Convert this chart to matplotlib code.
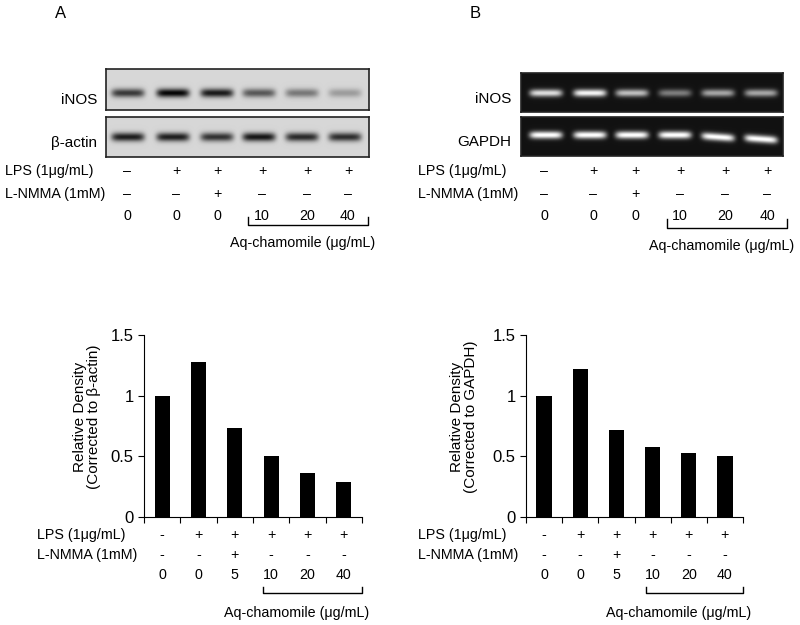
import numpy as np
import matplotlib
matplotlib.use("Agg")
import matplotlib.pyplot as plt

plt.rcParams["font.family"] = ["Liberation Sans", "DejaVu Sans"]

# ---- data -------------------------------------------------------------
lps = ["-", "+", "+", "+", "+", "+"]
nmma = ["-", "-", "+", "-", "-", "-"]
dose_blot = ["0", "0", "0", "10", "20", "40"]
dose_bar = ["0", "0", "5", "10", "20", "40"]

dens_actin = [1.00, 1.28, 0.735, 0.505, 0.36, 0.29]   # panel A bars
dens_gapdh = [1.00, 1.22, 0.72, 0.575, 0.525, 0.50]   # panel B bars

# band strength per lane (0-1), read by eye from the blots
wb_inos = [0.75, 1.00, 0.90, 0.60, 0.45, 0.28]
wb_actin = [0.88, 0.88, 0.78, 0.92, 0.82, 0.80]
rt_inos = [0.85, 0.95, 0.72, 0.45, 0.62, 0.62]
rt_gapdh = [1.00, 1.00, 1.00, 1.00, 1.00, 1.00]
rt_gapdh_shift = [0, 0, 0, 0, 2, 4]   # px, bands drift down in last lanes

FS = 10.3      # treatment rows
FS_LAB = 11    # blot names, y label
FS_TICK = 12
W, H = 800, 625
fig = plt.figure(figsize=(8, 6.25), dpi=100)


def px(x, y):
    return x / W, 1 - y / H


def ftext(x, y, s, **kw):
    kw.setdefault("fontsize", FS)
    kw.setdefault("va", "center")
    fig.text(*px(x, y), s, **kw)


def gel(x0, y0, x1, y1, lanes, strength, band_y, dark_bg, shift=None, bw=3.8):
    """synthetic gel strip drawn in pixel box (x0,y0)-(x1,y1)"""
    ax = fig.add_axes([x0 / W, 1 - y1 / H, (x1 - x0) / W, (y1 - y0) / H])
    w, h = int(x1 - x0), int(y1 - y0)
    xx, yy = np.meshgrid(np.arange(w) + 0.5, np.arange(h) + 0.5)
    sig = np.zeros((h, w))
    for i, (lx, s) in enumerate(zip(lanes, strength)):
        cx = lx - x0
        dy = 0 if shift is None else shift[i]
        slope = 0 if dy == 0 else 0.07
        yc = band_y + dy + slope * (xx - cx)
        prof = np.exp(-((xx - cx) / 16.5) ** 6) * np.exp(-((yy - yc) / bw) ** 2)
        sig = np.maximum(sig, s * prof)
    if dark_bg:
        img = 0.07 + 0.93 * sig
    else:
        img = 0.84 - 0.82 * sig
    ax.imshow(img, cmap="gray", vmin=0, vmax=1, aspect="auto",
              interpolation="bilinear")
    ax.set_xticks([])
    ax.set_yticks([])
    for sp in ax.spines.values():
        sp.set_linewidth(1.2)
        sp.set_color("#222222")
    return ax


# ---- panel A blot -----------------------------------------------------
laneA = [128, 173, 217, 259, 302, 345]
gel(106, 69, 369, 110, laneA, wb_inos, 24, False, bw=4.4)
gel(106, 117, 369, 157, laneA, wb_actin, 20, False, bw=4.4)
ftext(61, 14, "A", fontsize=12, ha="center")
ftext(97, 100, "iNOS", fontsize=FS_LAB, ha="right")
ftext(97, 143, "β-actin", fontsize=FS_LAB, ha="right")

# ---- panel B gel ------------------------------------------------------
laneB = [546, 590, 632, 675, 718, 761]
gel(521, 73, 783, 112, laneB, rt_inos, 20, True)
gel(521, 117, 783, 156, laneB, rt_gapdh, 18, True, shift=rt_gapdh_shift)
ftext(475, 14, "B", fontsize=12, ha="center")
ftext(511, 99, "iNOS", fontsize=FS_LAB, ha="right")
ftext(511, 142, "GAPDH", fontsize=FS_LAB, ha="right")

# treatment rows under the blots
lab_top = [(5, [127, 176, 217, 262, 307, 348], 248, 368, 217, 225, 303),
           (418, [544, 593, 635, 680, 725, 767], 667, 787, 219, 228, 722)]
for lx, cols, bx0, bx1, by0, by1, aqx in lab_top:
    ftext(lx, 171, "LPS (1μg/mL)")
    ftext(lx, 194, "L-NMMA (1mM)")
    for i, cx in enumerate(cols):
        ftext(cx, 171, "–" if lps[i] == "-" else "+", ha="center")
        ftext(cx, 194, "–" if nmma[i] == "-" else "+", ha="center")
        ftext(cx, 216, dose_blot[i], ha="center")
    fig.add_artist(plt.Line2D([bx0 / W, bx0 / W, bx1 / W, bx1 / W],
                              [1 - by0 / H, 1 - by1 / H, 1 - by1 / H, 1 - by0 / H],
                              color="black", lw=1))
    ftext(aqx, by1 + 18, "Aq-chamomile (μg/mL)", ha="center")

# ---- bar charts -------------------------------------------------------
bar_specs = [(144, 362, dens_actin, "Relative Density\n(Corrected to β-actin)", 87, 37, 2.78),
             (526, 743, dens_gapdh, "Relative Density\n(Corrected to GAPDH)", 464, 418, 2.82)]
for x0, x1, vals, ylab, ylx, rowx, brk in bar_specs:
    ax = fig.add_axes([x0 / W, 1 - 517 / H, (x1 - x0) / W, 182 / H])
    xs = np.arange(len(vals))
    ax.bar(xs, vals, width=0.42, color="black")
    ax.set_xlim(-0.5, 5.5)
    ax.set_ylim(0, 1.5)
    ax.set_yticks([0, 0.5, 1, 1.5])
    ax.set_yticklabels(["0", "0.5", "1", "1.5"])
    ax.set_xticks(np.arange(-0.5, 6, 1))
    ax.set_xticklabels([])
    ax.tick_params(direction="out", length=4, width=0.8, labelsize=FS_TICK,
                   colors="black", pad=3.5)
    for s in ("top", "right"):
        ax.spines[s].set_visible(False)
    for s in ("left", "bottom"):
        ax.spines[s].set_linewidth(0.8)
    ftext(ylx, 417, ylab, fontsize=FS_LAB, ha="center", rotation=90,
          multialignment="center", linespacing=1.05)

    tr = ax.get_xaxis_transform()
    for i in xs:
        ax.text(i, -0.099, lps[i], transform=tr, ha="center", va="center",
                fontsize=FS)
        ax.text(i, -0.209, nmma[i], transform=tr, ha="center", va="center",
                fontsize=FS)
        ax.text(i, -0.319, dose_bar[i], transform=tr, ha="center", va="center",
                fontsize=FS)
    ax.plot([brk, brk, 5.5, 5.5], [-0.385, -0.418, -0.418, -0.385], color="black",
            lw=1, transform=tr, clip_on=False)
    ax.text((brk + 5.5) / 2 - 0.45, -0.527, "Aq-chamomile (μg/mL)", transform=tr,
            ha="center", va="center", fontsize=FS)
    ftext(rowx, 535, "LPS (1μg/mL)")
    ftext(rowx, 555, "L-NMMA (1mM)")

fig.savefig("out.png", dpi=100)
